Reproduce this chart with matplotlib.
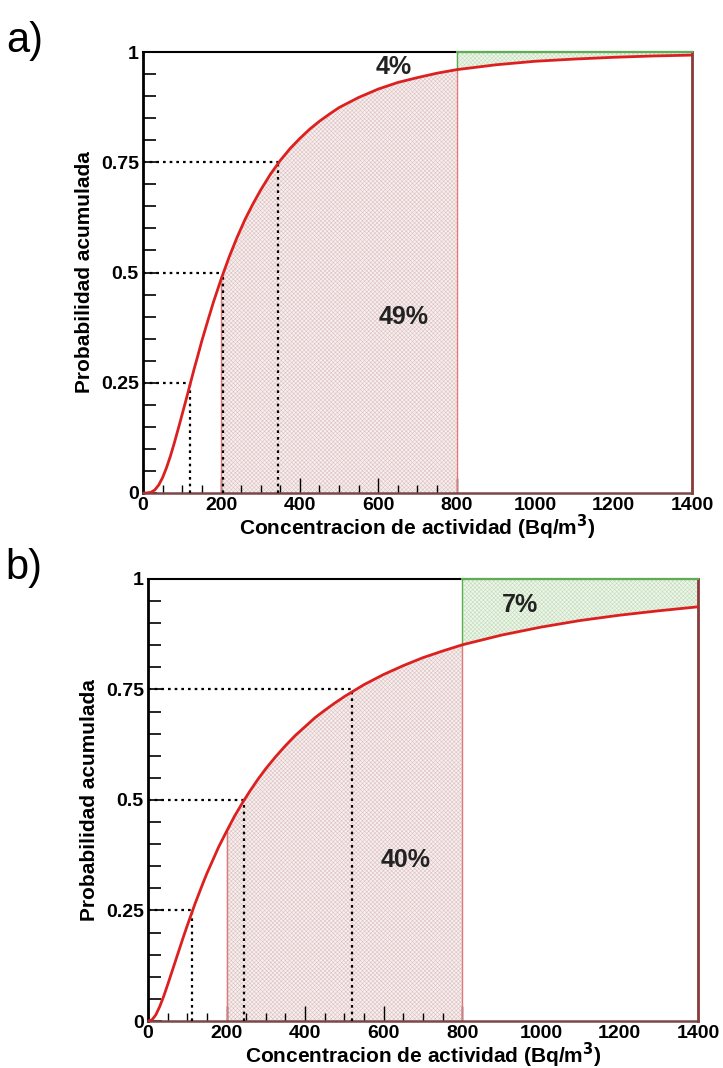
import numpy as np
import matplotlib
matplotlib.use("Agg")
import matplotlib.pyplot as plt

plt.rcParams['font.family'] = ['Liberation Sans', 'DejaVu Sans']
plt.rcParams['hatch.linewidth'] = 0.4

# Cumulative probability curves (read at fixed concentrations, Bq/m3)
conc = [0, 10, 20, 30, 40, 50, 60, 70, 80, 90, 100, 110, 120, 130, 140, 150,
        165, 180, 200, 220, 240, 260, 280, 300, 325, 350, 375, 400, 425, 450,
        475, 500, 550, 600, 650, 700, 750, 800, 900, 1000, 1100, 1200, 1300, 1400]
prob_a = [0.0, 0.0001, 0.0014, 0.0069, 0.018, 0.035, 0.0575, 0.084, 0.114,
          0.146, 0.179, 0.212, 0.246, 0.280, 0.312, 0.345, 0.390, 0.434, 0.487,
          0.536, 0.580, 0.620, 0.655, 0.687, 0.723, 0.754, 0.781, 0.804, 0.825,
          0.843, 0.859, 0.874, 0.897, 0.916, 0.931, 0.942, 0.952, 0.960, 0.971,
          0.979, 0.984, 0.988, 0.991, 0.993]
prob_b = [0.0, 0.0025, 0.014, 0.033, 0.056, 0.082, 0.109, 0.136, 0.163, 0.190,
          0.216, 0.241, 0.266, 0.289, 0.312, 0.334, 0.364, 0.394, 0.429, 0.463,
          0.493, 0.521, 0.547, 0.571, 0.598, 0.623, 0.646, 0.666, 0.686, 0.703,
          0.719, 0.734, 0.761, 0.784, 0.804, 0.822, 0.837, 0.851, 0.873, 0.891,
          0.906, 0.918, 0.928, 0.937]

# Quartiles of each distribution
quart_levels = [0.25, 0.5, 0.75]
quart_a = [120, 205, 345]
quart_b = [112, 245, 520]

# Region limits and labels
band_lo, band_hi = 200, 800
band_text_a, upper_text_a = '49%', '4%'
band_text_b, upper_text_b = '40%', '7%'

xticks = [0, 200, 400, 600, 800, 1000, 1200, 1400]
yticks = [0, 0.25, 0.5, 0.75, 1]
ytick_labels = ['0', '0.25', '0.5', '0.75', '1']


def draw_panel(ax, prob, quart, band_text, band_pos, upper_text, upper_pos):
    x = np.array(conc, dtype=float)
    y = np.array(prob)

    # shaded band under the curve between 200 and 800
    m = (x >= band_lo) & (x <= band_hi)
    ax.fill_between(x[m], 0, y[m], facecolor='#f8efef', edgecolor='#dcc2c2',
                    hatch='xxxxxxxx', linewidth=0, zorder=1)
    ax.plot([band_lo, band_lo], [0, np.interp(band_lo, x, y)], color='#e07878', lw=1, zorder=2)
    ax.plot([band_hi, band_hi], [0, np.interp(band_hi, x, y)], color='#e07878', lw=1, zorder=2)

    # upper tail above the curve beyond 800
    u = x >= band_hi
    ax.fill_between(x[u], y[u], 1, facecolor='#eef6ea', edgecolor='#c2dcba',
                    hatch='xxxxxxxx', linewidth=0, zorder=1)
    ax.plot([band_hi, band_hi], [np.interp(band_hi, x, y), 1], color='#5cae50', lw=1, zorder=2)
    ax.plot([band_hi, 1400], [1, 1], color='#5cae50', lw=1.5, zorder=3, clip_on=False)

    # quartile guide lines
    for q, lev in zip(quart, quart_levels):
        ax.plot([0, q], [lev, lev], color='black', ls=(0, (1.2, 1.8)), lw=1.6, zorder=3)
        ax.plot([q, q], [0, lev], color='black', ls=(0, (1.2, 1.8)), lw=1.6, zorder=3)

    ax.plot(x, y, color='#dc2020', lw=2.0, zorder=4)

    ax.text(band_pos[0], band_pos[1], band_text, fontsize=18, fontweight='bold',
            ha='center', va='center', color='#222222', zorder=5)
    ax.text(upper_pos[0], upper_pos[1], upper_text, fontsize=18, fontweight='bold',
            ha='center', va='center', color='#222222', zorder=5)

    ax.set_xlim(0, 1400)
    ax.set_ylim(0, 1)
    ax.set_xticks(xticks)
    ax.set_xticklabels([str(t) for t in xticks])
    ax.set_xticks(np.arange(50, 800, 50), minor=True)
    ax.set_yticks(yticks)
    ax.set_yticklabels(ytick_labels)
    ax.set_yticks(np.arange(0.05, 1.0, 0.05), minor=True)
    ax.tick_params(which='both', direction='in', labelsize=14, pad=3)
    ax.tick_params(axis='x', which='major', length=11, width=1)
    ax.tick_params(axis='x', which='minor', length=6, width=1)
    ax.tick_params(axis='y', which='major', length=10, width=1.2)
    ax.tick_params(axis='y', which='minor', length=9, width=1.2)
    for lab in ax.get_xticklabels() + ax.get_yticklabels():
        lab.set_fontweight('bold')
    for tick, loc in zip(ax.xaxis.get_major_ticks(), xticks):
        if loc > band_hi:
            tick.tick1line.set_visible(False)

    ax.spines['left'].set_linewidth(2)
    ax.spines['bottom'].set_color('#7a4848')
    ax.spines['bottom'].set_linewidth(1.8)
    ax.spines['right'].set_color('#8a3a3a')
    ax.spines['right'].set_linewidth(2)
    ax.spines['top'].set_linewidth(1.5)

    ax.set_xlabel('Concentracion de actividad (Bq/m$^\\mathbf{3}$)', fontsize=15,
                  fontweight='bold', labelpad=-1)
    ax.set_ylabel('Probabilidad acumulada', fontsize=15, fontweight='bold', labelpad=5)


fig = plt.figure(figsize=(7.23, 10.68), dpi=100)
ax_a = fig.add_axes([0.1978, 0.5384, 0.7593, 0.4129])
ax_b = fig.add_axes([0.2047, 0.0440, 0.7607, 0.4139])

draw_panel(ax_a, prob_a, quart_a, band_text_a, (664, 0.40), upper_text_a, (639, 0.965))
draw_panel(ax_b, prob_b, quart_b, band_text_b, (655, 0.365), upper_text_b, (948, 0.94))

fig.text(0.008, 0.962, 'a)', fontsize=30, va='center', ha='left')
fig.text(0.008, 0.468, 'b)', fontsize=30, va='center', ha='left')

fig.savefig('out.png', dpi=100)
